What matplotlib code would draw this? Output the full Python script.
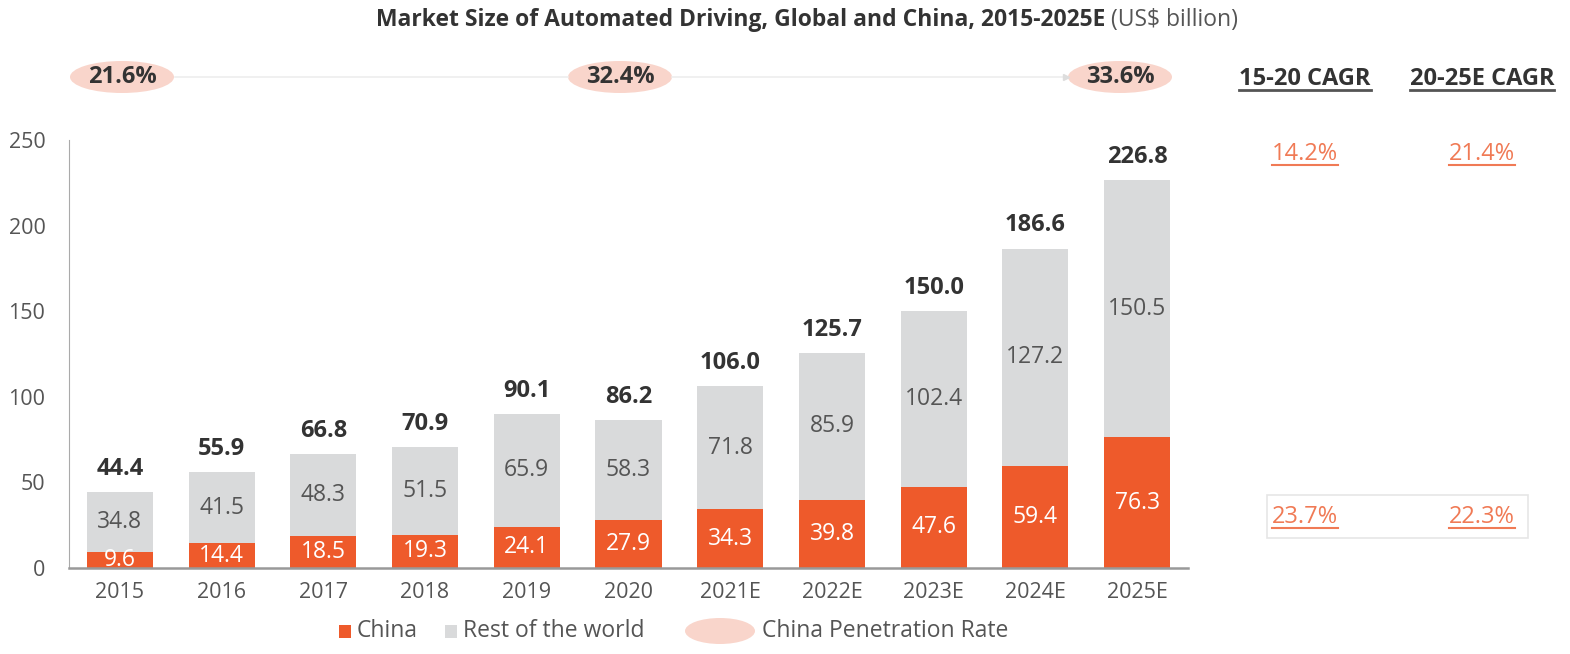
import matplotlib
matplotlib.use("Agg")
import matplotlib.pyplot as plt
from matplotlib.patches import Ellipse, Rectangle
from matplotlib.lines import Line2D
import numpy as np

plt.rcParams["font.family"] = ["Open Sans", "DejaVu Sans"]

YEARS = ["2015", "2016", "2017", "2018", "2019", "2020",
         "2021E", "2022E", "2023E", "2024E", "2025E"]
CHINA = [9.6, 14.4, 18.5, 19.3, 24.1, 27.9, 34.3, 39.8, 47.6, 59.4, 76.3]
REST = [34.8, 41.5, 48.3, 51.5, 65.9, 58.3, 71.8, 85.9, 102.4, 127.2, 150.5]
TOTAL = [44.4, 55.9, 66.8, 70.9, 90.1, 86.2, 106.0, 125.7, 150.0, 186.6, 226.8]
PENETRATION = ["21.6%", "32.4%", "33.6%"]
CAGR_HEADERS = ["15-20 CAGR", "20-25E CAGR"]
CAGR_TOTAL = ["14.2%", "21.4%"]
CAGR_CHINA = ["23.7%", "22.3%"]

ORANGE = "#EE5A2B"
GREY = "#D9DADB"
PINK = "#F9D5CB"
DARK = "#333333"
MID = "#555555"
CAGR_COLOR = "#F07A55"

W, H = 1570, 654


def fx(x):
    return x / W


def fy(y):
    return 1 - y / H


fig = plt.figure(figsize=(15.7, 6.54), dpi=100)
ax = fig.add_axes([fx(69), fy(568), fx(1188) - fx(69), fy(140) - fy(568)])

x = np.arange(len(YEARS))
ax.bar(x, CHINA, width=0.65, color=ORANGE, zorder=2)
ax.bar(x, REST, width=0.65, bottom=CHINA, color=GREY, zorder=2)

for i in range(len(YEARS)):
    ax.text(x[i], CHINA[i] / 2, f"{CHINA[i]:.1f}", ha="center", va="center",
            color="white", fontsize=16.5)
    ax.text(x[i], CHINA[i] + REST[i] / 2, f"{REST[i]:.1f}", ha="center",
            va="center", color=MID, fontsize=16.5)
    ax.annotate(f"{TOTAL[i]:.1f}", (x[i], TOTAL[i]), xytext=(0, 8),
                textcoords="offset points", ha="center", va="bottom",
                fontsize=17, fontweight="bold", color=DARK)

ax.set_xlim(-0.5, len(YEARS) - 0.5)
ax.set_ylim(0, 250)
ax.set_yticks([0, 50, 100, 150, 200, 250])
ax.set_xticks(x)
ax.set_xticklabels(YEARS)
ax.tick_params(length=0, labelsize=15.5, colors=MID, pad=10)
ax.tick_params(axis="y", pad=17)
for s in ["top", "right"]:
    ax.spines[s].set_visible(False)
ax.spines["left"].set_color("#AAAAAA")
ax.spines["bottom"].set_color("#999999")
ax.spines["bottom"].set_linewidth(1.8)

# title
fig.canvas.draw()
r = fig.canvas.get_renderer()
t1 = fig.text(0, fy(20), "Market Size of Automated Driving, Global and China, 2015-2025E",
              fontsize=16.5, fontweight="bold", color=DARK, va="center", ha="left")
t2 = fig.text(0, fy(20), " (US$ billion)", fontsize=16.5, color=MID, va="center", ha="left")
w1 = t1.get_window_extent(r).width
w2 = t2.get_window_extent(r).width
start = 807 - (w1 + w2) / 2
t1.set_x(fx(start))
t2.set_x(fx(start + w1))

# penetration rate row
pen_x = [122, 620, 1120]
fig.add_artist(Line2D([fx(175), fx(568)], [fy(77), fy(77)], color="#EEEEEE", lw=1.2))
fig.add_artist(Line2D([fx(672), fx(1066)], [fy(77), fy(77)], color="#EEEEEE", lw=1.2))
fig.add_artist(Line2D([fx(1066)], [fy(77)], marker=">", color="#DDDDDD", ms=5))
for px, label in zip(pen_x, PENETRATION):
    fig.add_artist(Ellipse((fx(px), fy(77)), fx(104), 32 / H, color=PINK, lw=0))
    fig.text(fx(px), fy(77), label, ha="center", va="center", fontsize=17,
             fontweight="bold", color=DARK)


def underlined(xc, yc, s, color, weight="normal", lcolor=None, lw=1.5):
    t = fig.text(fx(xc), fy(yc), s, ha="center", va="center", fontsize=17,
                 fontweight=weight, color=color)
    bb = t.get_window_extent(r)
    yl = bb.y0 + 1
    fig.add_artist(Line2D([bb.x0 / W, bb.x1 / W], [yl / H, yl / H],
                          color=lcolor or color, lw=lw))


cagr_x = [1305, 1482]
for cx, head, v1, v2 in zip(cagr_x, CAGR_HEADERS, CAGR_TOTAL, CAGR_CHINA):
    underlined(cx, 79, head, DARK, weight="bold", lcolor="#555555", lw=2)
    underlined(cx, 154, v1, CAGR_COLOR)
    underlined(cx, 517, v2, CAGR_COLOR)

fig.add_artist(Rectangle((fx(1267), fy(538)), fx(1528) - fx(1267), fy(495) - fy(538),
                         fill=False, edgecolor="#E6E6E6", lw=1.2))

# legend
ly = 631
fig.add_artist(Rectangle((fx(339), fy(ly + 7)), fx(12), 13 / H, color=ORANGE, lw=0))
fig.text(fx(357), fy(ly), "China", ha="left", va="center", fontsize=16.5, color=MID)
fig.add_artist(Rectangle((fx(445), fy(ly + 7)), fx(12), 13 / H, color=GREY, lw=0))
fig.text(fx(463), fy(ly), "Rest of the world", ha="left", va="center", fontsize=16.5, color=MID)
fig.add_artist(Ellipse((fx(720), fy(ly)), fx(70), 26 / H, color=PINK, lw=0))
fig.text(fx(762), fy(ly), "China Penetration Rate", ha="left", va="center", fontsize=16.5, color=MID)

fig.savefig("out.png", dpi=100)
